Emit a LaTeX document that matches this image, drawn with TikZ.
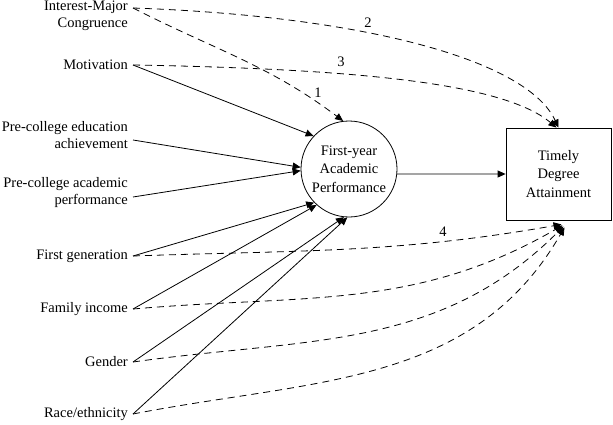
\documentclass[tikz,border=0pt]{standalone}
\usepackage{fontspec}
\setmainfont{Liberation Serif}
\usetikzlibrary{arrows.meta}

\begin{document}
\begin{tikzpicture}[x=1pt,y=1pt,
    lbl/.style={anchor=east, align=right, inner sep=0pt, font=\fontsize{14.5}{17}\selectfont},
    num/.style={inner sep=1pt, font=\fontsize{14.5}{17}\selectfont},
    solidarr/.style={line width=0.8pt, -{Triangle[length=8pt,width=7pt]}},
    dasharr/.style={line width=0.8pt, dash pattern=on 7pt off 5pt, -{Triangle[length=8pt,width=7pt]}}]
  \useasboundingbox (0,0) rectangle (613,424);

  % predictors
  \node[lbl] (intmaj) at (128,408) {Interest-Major\\Congruence};
  \node[lbl] (motiv) at (128,359) {Motivation};
  \node[lbl] (edu) at (128,288.5) {Pre-college education\\achievement};
  \node[lbl] (acad) at (128,231.5) {Pre-college academic\\performance};
  \node[lbl] (firstgen) at (128,168) {First generation};
  \node[lbl] (income) at (128,115) {Family income};
  \node[lbl] (gender) at (128,62) {Gender};
  \node[lbl] (race) at (128,10) {Race/ethnicity};

  % line starts
  \coordinate (intmaj-o) at (133,416);
  \coordinate (motiv-o) at (133,359);
  \coordinate (edu-o) at (133,284);
  \coordinate (acad-o) at (133,227);
  \coordinate (firstgen-o) at (133,168);
  \coordinate (income-o) at (133,115);
  \coordinate (gender-o) at (133,62);
  \coordinate (race-o) at (133,10);

  % mediator and outcome
  \node[draw, circle, line width=0.8pt, minimum size=96pt, inner sep=0pt, align=center,
        font=\fontsize{14.5}{18.5}\selectfont] (fyap) at (349,255) {First-year\\Academic\\Performance};
  \node[draw, line width=0.8pt, minimum width=105pt, minimum height=92pt, inner sep=0pt, align=center,
        font=\fontsize{14.5}{18.5}\selectfont] (tda) at (558.5,250) {Timely\\Degree\\Attainment};

  % direct paths to first-year performance
  \draw[solidarr] (motiv-o) -- (fyap.137);
  \draw[solidarr] (edu-o) -- (fyap.178);
  \draw[solidarr] (acad-o) -- (fyap.182);
  \draw[solidarr] (firstgen-o) -- (fyap.224);
  \draw[solidarr] (income-o) -- (fyap.228);
  \draw[solidarr] (gender-o) -- (fyap.264);
  \draw[solidarr] (race-o) -- (fyap.268);
  \draw[solidarr] (fyap.-6) -- (tda.west);

  % dashed paths
  \draw[dasharr] (intmaj-o) to[out=-27, in=143] (fyap.97);
  \draw[dasharr] (intmaj-o) .. controls +(-2:230) and +(115:75) .. (tda.north);
  \draw[dasharr] (motiv-o) .. controls +(-1:220) and +(140:70) .. ([xshift=-2pt]tda.north);
  \draw[dasharr] (firstgen-o) to[out=2, in=190] ([xshift=3pt,yshift=-4pt]tda.south);
  \draw[dasharr] (income-o) to[out=5, in=210] ([xshift=4pt,yshift=-5pt]tda.south);
  \draw[dasharr] (gender-o) to[out=8, in=225] ([xshift=5pt,yshift=-6pt]tda.south);
  \draw[dasharr] (race-o) to[out=11, in=240] ([xshift=6pt,yshift=-7pt]tda.south);

  % path numbers
  \node[num] (n1) at (318,331) {1};
  \node[num] (n2) at (368,401) {2};
  \node[num] (n3) at (341,362) {3};
  \node[num] (n4) at (443,192) {4};
\end{tikzpicture}
\end{document}
